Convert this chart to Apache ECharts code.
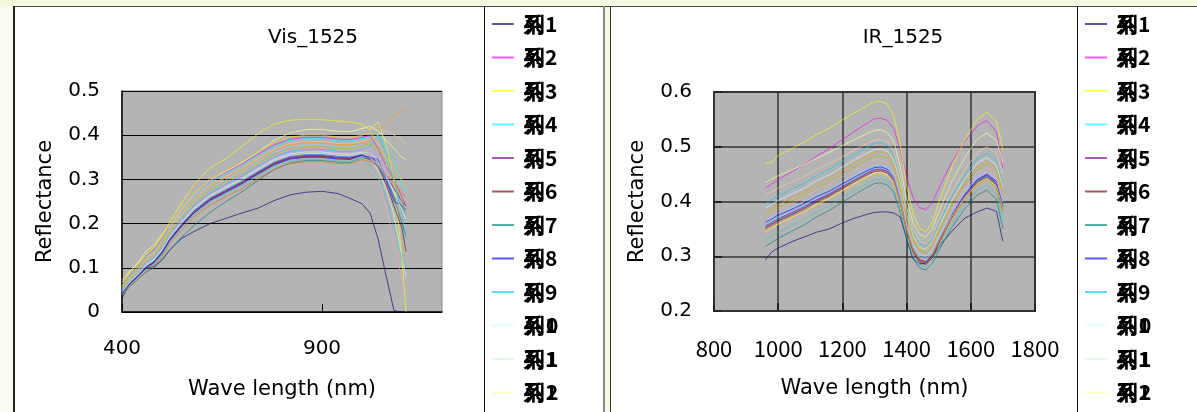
<!DOCTYPE html>
<html>
<head>
<meta charset="utf-8">
<script src="https://cdn.jsdelivr.net/npm/echarts@6/dist/echarts.min.js"></script>
<style>
  html, body { margin: 0; padding: 0; }
  body { width: 1197px; height: 412px; overflow: hidden; background: #f6f9e0; position: relative; }
  .blk { position: absolute; }
  #chart { position: absolute; left: 0; top: 0; width: 1197px; height: 412px; }
</style>
</head>
<body>
<!-- sheet frames behind the two charts -->
<div class="blk" style="left:0;top:7px;width:13px;height:405px;background:#fbfcf1"></div>
<div class="blk" style="left:13px;top:7px;width:591px;height:405px;background:#ffffff"></div>
<div class="blk" style="left:610px;top:7px;width:587px;height:405px;background:#ffffff"></div>
<div class="blk" style="left:13px;top:6px;width:1184px;height:1px;background:#4a4a4a"></div>
<div class="blk" style="left:13px;top:6px;width:2px;height:406px;background:#222"></div>
<div class="blk" style="left:484px;top:6px;width:1px;height:406px;background:#111"></div>
<div class="blk" style="left:603px;top:6px;width:2px;height:406px;background:#8a8a8a"></div>
<div class="blk" style="left:610px;top:6px;width:1px;height:406px;background:#333"></div>
<div class="blk" style="left:1077px;top:6px;width:1px;height:406px;background:#111"></div>
<div id="chart"></div>
<script>
// wavelengths (nm) of the two spectra
const visWave = [400, 420, 440, 460, 480, 500, 520, 550, 580, 620, 660, 700, 740, 780, 820, 860, 900, 940, 970, 1000, 1020, 1040, 1060, 1080, 1100, 1110];
const irWave = [960, 980, 1000, 1040, 1080, 1120, 1160, 1200, 1240, 1280, 1300, 1320, 1340, 1360, 1380, 1400, 1420, 1440, 1460, 1480, 1500, 1540, 1580, 1620, 1650, 1680, 1700];

const seriesNames = ['系列1', '系列2', '系列3', '系列4', '系列5', '系列6', '系列7', '系列8', '系列9', '系列10', '系列11',
  '系列12', '系列13', '系列14', '系列15', '系列16', '系列17', '系列18', '系列19', '系列20', '系列21', '系列22'];
const seriesColors = ['#000080', '#ff00ff', '#ffff00', '#00ffff', '#800080', '#800000', '#008080', '#0000ff', '#00ccff', '#ccffff', '#ccffcc',
  '#ffff99', '#99ccff', '#ff99cc', '#cc99ff', '#ffcc99', '#3366ff', '#33cccc', '#99cc00', '#ffcc00', '#ff9900', '#ff6600'];

// visible-range reflectance, one array per sample
const vis1 = [.031, .065, .084, .099, .103, .118, .141, .167, .182, .200, .212, .224, .235, .252, .265, .271, .273, .268, .257, .245, .224, .166, .083, .003, 0, 0];
const vis2 = [.060, .084, .103, .126, .141, .165, .196, .231, .265, .297, .316, .335, .357, .378, .391, .395, .395, .391, .390, .395, .400, .370, .330, .300, .260, .240];
const vis3 = [.073, .092, .110, .130, .146, .172, .205, .248, .288, .326, .347, .375, .403, .425, .434, .436, .435, .432, .430, .425, .412, .430, .380, .300, .120, .000];
const vis4 = [.058, .082, .102, .125, .139, .163, .194, .229, .262, .294, .313, .332, .354, .375, .388, .392, .392, .388, .387, .392, .395, .410, .370, .345, .290, .270];
const vis5 = [.043, .065, .082, .102, .114, .136, .165, .198, .228, .256, .275, .294, .316, .337, .350, .354, .354, .350, .349, .354, .350, .340, .310, .280, .250, .240];
const vis6 = [.042, .064, .081, .101, .113, .135, .164, .197, .226, .254, .273, .292, .314, .335, .348, .352, .352, .348, .347, .356, .345, .330, .290, .240, .190, .137];
const vis7 = [.038, .058, .074, .090, .100, .118, .140, .170, .196, .225, .250, .272, .298, .322, .337, .343, .343, .339, .338, .350, .345, .330, .300, .260, .200, .171];
const vis8 = [.042, .064, .080, .099, .111, .133, .162, .195, .224, .252, .271, .290, .312, .333, .346, .350, .350, .346, .345, .355, .350, .345, .300, .250, .240, .231];
const vis9 = [.049, .072, .089, .110, .123, .146, .176, .210, .240, .270, .289, .308, .330, .351, .364, .368, .368, .364, .363, .368, .375, .400, .360, .300, .220, .170];
const vis10 = [.046, .069, .086, .107, .119, .142, .171, .205, .235, .264, .283, .302, .324, .345, .358, .362, .362, .358, .357, .362, .360, .340, .310, .270, .230, .210];
const vis11 = [.045, .067, .084, .104, .117, .139, .168, .202, .231, .260, .279, .298, .320, .341, .354, .358, .358, .354, .353, .358, .350, .320, .280, .220, .120, .080];
const vis12 = [.067, .092, .112, .137, .152, .177, .195, .232, .265, .298, .318, .338, .362, .388, .405, .413, .413, .409, .408, .415, .420, .410, .390, .370, .350, .345];
const vis13 = [.053, .076, .095, .116, .130, .153, .183, .218, .249, .280, .299, .318, .340, .361, .374, .378, .378, .374, .373, .376, .370, .340, .300, .290, .290, .280];
const vis14 = [.050, .073, .091, .112, .125, .148, .178, .212, .243, .273, .292, .311, .333, .354, .367, .371, .371, .367, .366, .370, .360, .310, .240, .160, .070, .040];
const vis15 = [.048, .070, .088, .108, .121, .144, .173, .207, .238, .267, .286, .305, .327, .348, .361, .365, .365, .361, .360, .365, .360, .350, .330, .320, .310, .307];
const vis16 = [.056, .079, .098, .120, .134, .158, .189, .223, .256, .287, .306, .325, .347, .368, .381, .385, .385, .381, .380, .385, .390, .400, .410, .400, .390, .380];
const vis17 = [.044, .066, .083, .103, .115, .137, .167, .200, .229, .258, .277, .296, .318, .339, .352, .356, .356, .352, .351, .356, .350, .330, .300, .260, .240, .220];
const vis18 = [.040, .062, .078, .097, .109, .130, .159, .192, .220, .248, .267, .286, .308, .329, .342, .346, .346, .342, .341, .350, .330, .310, .260, .190, .120, .100];
const vis19 = [.051, .074, .093, .114, .127, .150, .180, .214, .246, .276, .295, .314, .336, .357, .370, .374, .374, .370, .369, .374, .380, .370, .340, .300, .250, .220];
const vis20 = [.062, .086, .106, .129, .144, .168, .200, .235, .269, .302, .321, .340, .362, .383, .396, .400, .400, .396, .395, .400, .405, .380, .350, .330, .300, .280];
const vis21 = [.055, .078, .097, .119, .133, .156, .187, .222, .254, .285, .304, .323, .345, .366, .379, .383, .383, .379, .378, .383, .388, .410, .425, .445, .455, .456];
const vis22 = [.038, .059, .075, .093, .105, .126, .155, .187, .215, .242, .261, .280, .302, .323, .336, .340, .340, .336, .335, .345, .340, .330, .310, .290, .270, .260];

// near-infrared reflectance, one array per sample
const ir1 = [.293, .308, .315, .326, .335, .344, .350, .361, .370, .377, .380, .381, .381, .379, .372, .332, .295, .286, .287, .298, .317, .345, .369, .381, .388, .382, .327];
const ir2 = [.424, .432, .440, .454, .467, .483, .497, .513, .529, .544, .551, .552, .548, .534, .495, .445, .407, .389, .385, .398, .424, .471, .509, .538, .548, .527, .461];
const ir3 = [.470, .471, .484, .496, .508, .522, .534, .549, .563, .576, .582, .583, .578, .557, .503, .430, .377, .351, .345, .362, .397, .461, .511, .550, .563, .546, .494];
const ir4 = [.357, .364, .370, .382, .393, .406, .417, .431, .444, .456, .462, .463, .459, .445, .406, .355, .317, .299, .295, .307, .331, .375, .409, .436, .445, .428, .375];
const ir5 = [.355, .362, .368, .379, .390, .403, .414, .427, .440, .453, .458, .459, .455, .440, .401, .349, .311, .292, .288, .301, .326, .373, .410, .438, .448, .434, .390];
const ir6 = [.352, .359, .365, .376, .387, .400, .411, .424, .437, .450, .455, .456, .452, .437, .398, .346, .308, .289, .285, .298, .323, .370, .407, .435, .445, .430, .385];
const ir7 = [.318, .325, .333, .345, .357, .372, .384, .399, .413, .427, .433, .434, .430, .417, .380, .332, .296, .279, .275, .287, .310, .352, .386, .412, .421, .404, .350];
const ir8 = [.362, .368, .375, .385, .396, .409, .419, .432, .445, .457, .462, .463, .459, .444, .404, .352, .313, .294, .290, .303, .328, .375, .412, .440, .450, .437, .395];
const ir9 = [.396, .403, .410, .422, .433, .447, .459, .473, .487, .500, .506, .507, .503, .486, .443, .386, .343, .323, .318, .332, .359, .408, .447, .478, .488, .474, .430];
const ir10 = [.388, .395, .402, .413, .424, .438, .449, .463, .477, .489, .495, .496, .492, .476, .434, .378, .337, .316, .312, .325, .352, .401, .440, .470, .480, .467, .425];
const ir11 = [.345, .352, .359, .370, .381, .395, .406, .420, .434, .446, .452, .453, .449, .436, .401, .355, .320, .304, .300, .311, .334, .374, .406, .432, .440, .428, .390];
const ir12 = [.435, .441, .447, .457, .467, .479, .490, .502, .514, .525, .530, .531, .526, .510, .465, .405, .361, .340, .335, .350, .381, .436, .479, .514, .525, .512, .470];
const ir13 = [.366, .372, .379, .389, .400, .413, .423, .436, .449, .461, .466, .467, .463, .449, .410, .358, .321, .302, .298, .311, .336, .381, .417, .446, .455, .441, .398];
const ir14 = [.372, .379, .385, .396, .407, .421, .432, .445, .458, .470, .476, .477, .473, .458, .417, .363, .324, .304, .300, .313, .339, .386, .423, .452, .462, .448, .405];
const ir15 = [.360, .366, .373, .383, .394, .407, .417, .430, .443, .455, .460, .461, .457, .443, .405, .354, .317, .299, .295, .308, .333, .378, .414, .443, .452, .439, .400];
const ir16 = [.412, .418, .425, .435, .446, .459, .469, .482, .495, .507, .512, .513, .509, .492, .448, .390, .347, .327, .322, .336, .365, .416, .457, .489, .500, .488, .450];
const ir17 = [.350, .357, .364, .375, .387, .401, .412, .426, .440, .452, .458, .459, .455, .441, .402, .350, .313, .294, .290, .303, .328, .373, .409, .438, .447, .433, .390];
const ir18 = [.330, .337, .344, .356, .367, .381, .393, .407, .421, .434, .440, .441, .437, .423, .386, .338, .301, .284, .280, .292, .316, .360, .394, .421, .430, .413, .360];
const ir19 = [.375, .382, .389, .400, .411, .425, .436, .450, .464, .476, .482, .483, .479, .464, .423, .369, .329, .309, .305, .318, .344, .391, .429, .458, .468, .454, .410];
const ir20 = [.345, .352, .358, .370, .381, .394, .405, .419, .432, .444, .450, .451, .447, .434, .397, .349, .313, .296, .292, .304, .328, .372, .406, .433, .442, .428, .385];
const ir21 = [.380, .387, .394, .406, .417, .431, .443, .457, .471, .484, .490, .491, .487, .471, .430, .375, .334, .314, .310, .323, .349, .396, .434, .463, .473, .460, .420];
const ir22 = [.348, .355, .362, .373, .384, .398, .409, .423, .437, .449, .455, .456, .452, .438, .399, .347, .310, .291, .287, .299, .324, .368, .403, .431, .440, .425, .380];

const visSeries = [vis1, vis2, vis3, vis4, vis5, vis6, vis7, vis8, vis9, vis10, vis11, vis12, vis13, vis14, vis15, vis16, vis17, vis18, vis19, vis20, vis21, vis22];
const irSeries = [ir1, ir2, ir3, ir4, ir5, ir6, ir7, ir8, ir9, ir10, ir11, ir12, ir13, ir14, ir15, ir16, ir17, ir18, ir19, ir20, ir21, ir22];

const visXLabels = [400, 900];
const AX = 'DejaVu Sans';
const NARROW = '"Liberation Sans Narrow", "Noto Sans CJK JP", sans-serif';
const CJK = 'Noto Sans CJK JP';

const chart = echarts.init(document.getElementById('chart'), null, { renderer: 'canvas' });

function lineSeries(name, color, wave, values, idx) {
  return {
    type: 'line', name: name, xAxisIndex: idx, yAxisIndex: idx,
    data: wave.map((w, j) => [w, values[j]]),
    showSymbol: false, silent: true, animation: false,
    lineStyle: { width: 1, color: color, opacity: 0.65 },
    itemStyle: { color: color }
  };
}

const series = [];
seriesNames.forEach((n, i) => series.push(lineSeries(n, seriesColors[i], visWave, visSeries[i], 0)));
seriesNames.forEach((n, i) => series.push(lineSeries(n, seriesColors[i], irWave, irSeries[i], 1)));

// legend entries are printed tightly packed: the two kanji share one cell, as do two-digit numbers
const richBase = { fontFamily: CJK, fontSize: 21, fontWeight: 'bold', lineHeight: 24, color: '#000' };
const legendRich = {
  k: Object.assign({ width: 1, padding: [0, 0, 0, 4] }, richBase),
  r: Object.assign({}, richBase),
  o: Object.assign({ width: 1 }, richBase),
  n: Object.assign({}, richBase)
};
function legendText(name) {
  const num = name.slice(2);
  const digits = num.length === 2 ? '{o|' + num[0] + '}{n|' + num[1] + '}' : '{n|' + num + '}';
  return '{k|' + name[0] + '}{r|' + name[1] + '}' + digits;
}
function legendAt(left) {
  return {
    orient: 'vertical', left: left, top: 12, height: 800, padding: 0,
    itemGap: 9.5, itemWidth: 22, itemHeight: 2, icon: 'rect',
    data: seriesNames, selectedMode: false,
    itemStyle: { opacity: 0.65 },
    formatter: legendText,
    textStyle: Object.assign({ rich: legendRich }, richBase)
  };
}

const axisFont = { fontFamily: AX, color: '#000' };
const plainNum = v => String(v);

chart.setOption({
  backgroundColor: 'transparent',
  animation: false,
  graphic: [
    { type: 'text', x: 313, y: 38, style: { text: 'Vis_1525', font: '20px "DejaVu Sans"', fill: '#000', align: 'center', verticalAlign: 'middle', textAlign: 'center', textVerticalAlign: 'middle' } },
    { type: 'text', x: 903, y: 38, style: { text: 'IR_1525', font: '20px "DejaVu Sans"', fill: '#000', align: 'center', verticalAlign: 'middle', textAlign: 'center', textVerticalAlign: 'middle' } }
  ],
  legend: [legendAt(492), legendAt(1085)],
  grid: [
    { left: 122, top: 91, width: 320, height: 221, show: true, backgroundColor: '#b4b4b4', borderColor: '#8a8a8a', borderWidth: 1, containLabel: false, outerBoundsMode: 'none' },
    { left: 714, top: 92, width: 321, height: 219, show: true, backgroundColor: '#b4b4b4', borderColor: '#383838', borderWidth: 2, containLabel: false, outerBoundsMode: 'none' }
  ],
  xAxis: [
    {
      gridIndex: 0, type: 'value', min: 400, max: 1200,
      axisLine: { show: true, onZero: false, lineStyle: { color: '#000', width: 1.5 } },
      axisTick: { show: true, inside: true, length: 8, customValues: visXLabels, lineStyle: { color: '#000' } },
      axisLabel: Object.assign({ customValues: visXLabels, fontSize: 20, margin: 27, formatter: plainNum }, axisFont),
      splitLine: { show: false },
      name: 'Wave length (nm)', nameLocation: 'middle', nameGap: 67,
      nameTextStyle: Object.assign({ fontSize: 21 }, axisFont)
    },
    {
      gridIndex: 1, type: 'value', min: 800, max: 1800, interval: 200,
      axisLine: { show: true, onZero: false, lineStyle: { color: '#333', width: 2 } },
      axisTick: { show: true, inside: true, length: 8, lineStyle: { color: '#222', width: 2 } },
      axisLabel: { fontFamily: NARROW, color: '#000', fontSize: 22, margin: 27, formatter: plainNum },
      splitLine: { show: true, lineStyle: { color: '#333', width: 1.5 } },
      name: 'Wave length (nm)', nameLocation: 'middle', nameGap: 67,
      nameTextStyle: Object.assign({ fontSize: 21 }, axisFont)
    }
  ],
  yAxis: [
    {
      gridIndex: 0, type: 'value', min: 0, max: 0.5, interval: 0.1,
      axisLine: { show: true, onZero: false, lineStyle: { color: '#000', width: 1.5 } },
      axisTick: { show: true, inside: true, length: 6, lineStyle: { color: '#000' } },
      axisLabel: Object.assign({ fontSize: 20, margin: 22 }, axisFont),
      splitLine: { show: true, lineStyle: { color: '#000', width: 1 } },
      name: 'Reflectance', nameLocation: 'middle', nameGap: 66, nameRotate: 90,
      nameTextStyle: Object.assign({ fontSize: 21 }, axisFont)
    },
    {
      gridIndex: 1, type: 'value', min: 0.2, max: 0.6, interval: 0.1,
      axisLine: { show: true, onZero: false, lineStyle: { color: '#333', width: 2 } },
      axisTick: { show: true, inside: true, length: 8, lineStyle: { color: '#222', width: 2 } },
      axisLabel: Object.assign({ fontSize: 20, margin: 22 }, axisFont),
      splitLine: { show: true, lineStyle: { color: '#333', width: 1.5 } },
      name: 'Reflectance', nameLocation: 'middle', nameGap: 66, nameRotate: 90,
      nameTextStyle: Object.assign({ fontSize: 21 }, axisFont)
    }
  ],
  series: series
});
</script>
</body>
</html>
